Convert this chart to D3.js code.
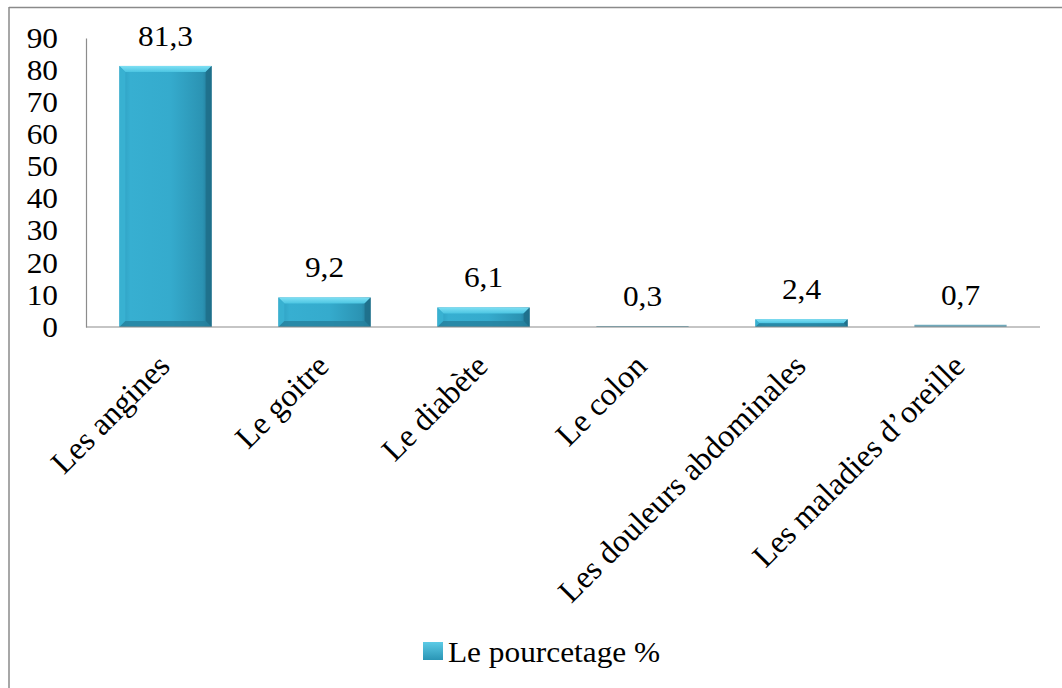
<!DOCTYPE html>
<html>
<head>
<meta charset="utf-8">
<script src="https://cdn.jsdelivr.net/npm/d3@7"></script>
<style>
  html, body { margin: 0; padding: 0; background: #fff; }
  svg { display: block; }
</style>
</head>
<body>
<svg id="chart" width="1062" height="688"></svg>
<script>
// Categories and percentages
const categories = ["Les angines", "Le goitre", "Le diabète", "Le colon", "Les douleurs abdominales", "Les maladies d\u2019oreille"];
const values = [81.3, 9.2, 6.1, 0.3, 2.4, 0.7];
const valueLabels = ["81,3", "9,2", "6,1", "0,3", "2,4", "0,7"];
const yTicks = [0, 10, 20, 30, 40, 50, 60, 70, 80, 90];
const seriesName = "Le pourcetage %";

const svg = d3.select("#chart");
const font = "Liberation Serif, Times New Roman, serif";
const fontSize = 29;
const sx = 1.08; // slight horizontal widening of the lettering
const catFontSize = 32;

const plot = { left: 86, right: 1040, top: 38, bottom: 327 };

// Outer frame (only the top and left edges fall inside the page)
svg.append("line").attr("x1", 9).attr("x2", 1062).attr("y1", 7.5).attr("y2", 7.5)
  .attr("stroke", "#8a8a8a").attr("stroke-width", 1.5);
svg.append("line").attr("x1", 9).attr("x2", 9).attr("y1", 7).attr("y2", 688)
  .attr("stroke", "#8a8a8a").attr("stroke-width", 1.5);

const x = d3.scaleBand().domain(categories).range([plot.left, plot.right]).paddingInner(0.42).paddingOuter(0.21);
const y = d3.scaleLinear().domain([0, 90]).range([plot.bottom, plot.top]);

// Gradients for the bevelled bars
const defs = svg.append("defs");
const bodyGrad = defs.append("linearGradient").attr("id", "barBody").attr("x1", 0).attr("x2", 1).attr("y1", 0).attr("y2", 0);
bodyGrad.append("stop").attr("offset", "0%").attr("stop-color", "#2c9cbd");
bodyGrad.append("stop").attr("offset", "12%").attr("stop-color", "#37afd1");
bodyGrad.append("stop").attr("offset", "55%").attr("stop-color", "#35abcd");
bodyGrad.append("stop").attr("offset", "90%").attr("stop-color", "#2b93b3");
bodyGrad.append("stop").attr("offset", "100%").attr("stop-color", "#1f7390");
const topGrad = defs.append("linearGradient").attr("id", "barTop").attr("x1", 0).attr("x2", 0).attr("y1", 0).attr("y2", 1);
topGrad.append("stop").attr("offset", "0%").attr("stop-color", "#7fe0f4");
topGrad.append("stop").attr("offset", "100%").attr("stop-color", "#4cc5e2");
const legendGrad = defs.append("linearGradient").attr("id", "legendGrad").attr("x1", 0).attr("x2", 0).attr("y1", 0).attr("y2", 1);
legendGrad.append("stop").attr("offset", "0%").attr("stop-color", "#5ccbe6");
legendGrad.append("stop").attr("offset", "100%").attr("stop-color", "#2a95b5");

function styleText(sel, size = fontSize) {
  return sel.attr("font-family", font).attr("font-size", size).attr("fill", "#000");
}

// Y axis
const yAxis = d3.axisLeft(y).tickValues(yTicks).tickSize(0).tickPadding(28).tickFormat(d3.format("d"));
const yg = svg.append("g").attr("transform", `translate(${plot.left},0)`).call(yAxis);
yg.select(".domain").attr("stroke", "#8c8c8c").attr("stroke-width", 1.2);
styleText(yg.selectAll("text"))
  .attr("x", 0)
  .attr("transform", `translate(-28,0) scale(${sx},1)`);

// Bars
const bw = x.bandwidth();
const bars = svg.append("g").selectAll("g").data(categories).join("g");
bars.each(function(c, i) {
  const g = d3.select(this);
  const x0 = x(c), y0 = y(values[i]), h = y(0) - y0;
  const bev = Math.min(6, h / 2);
  g.append("rect").attr("x", x0).attr("y", y0).attr("width", bw).attr("height", h)
    .attr("fill", h < 3 ? "#6fa9bb" : "url(#barBody)");
  if (h >= 3) {
    // top bevel
    g.append("polygon")
      .attr("points", [[x0, y0], [x0 + bw, y0], [x0 + bw - bev, y0 + bev], [x0 + bev, y0 + bev]].map(p => p.join(",")).join(" "))
      .attr("fill", "url(#barTop)");
    // left bevel
    g.append("polygon")
      .attr("points", [[x0, y0], [x0 + bev, y0 + bev], [x0 + bev, y0 + h - bev], [x0, y0 + h]].map(p => p.join(",")).join(" "))
      .attr("fill", "#3ab3d3").attr("opacity", 0.9);
    // right bevel
    g.append("polygon")
      .attr("points", [[x0 + bw, y0], [x0 + bw - bev, y0 + bev], [x0 + bw - bev, y0 + h - bev], [x0 + bw, y0 + h]].map(p => p.join(",")).join(" "))
      .attr("fill", "#1f6f89").attr("opacity", 0.85);
    // bottom bevel
    g.append("polygon")
      .attr("points", [[x0, y0 + h], [x0 + bev, y0 + h - bev], [x0 + bw - bev, y0 + h - bev], [x0 + bw, y0 + h]].map(p => p.join(",")).join(" "))
      .attr("fill", "#257f9c").attr("opacity", 0.8);
  }
});

// X axis baseline
svg.append("line").attr("x1", plot.left).attr("x2", plot.right).attr("y1", y(0)).attr("y2", y(0))
  .attr("stroke", "#8c8c8c").attr("stroke-width", 1.2);

// Value labels
styleText(svg.append("g").selectAll("text").data(categories).join("text"))
  .attr("transform", (c, i) => `translate(${x(c) + bw / 2},${y(values[i]) - 20}) scale(${sx},1)`)
  .attr("text-anchor", "middle")
  .text((c, i) => valueLabels[i]);

// Rotated category labels
styleText(svg.append("g").selectAll("text").data(categories).join("text"), catFontSize)
  .attr("transform", c => `translate(${x(c) + bw / 2 + 6},${y(0) + 41}) rotate(-45)`)
  .attr("text-anchor", "end")
  .text(c => c);

// Legend
const lg = svg.append("g").attr("transform", "translate(423,642)");
lg.append("rect").attr("width", 20).attr("height", 18).attr("fill", "url(#legendGrad)");
styleText(lg.append("text"))
  .attr("transform", `translate(25,20) scale(${sx},1)`)
  .text(seriesName);
</script>
</body>
</html>
